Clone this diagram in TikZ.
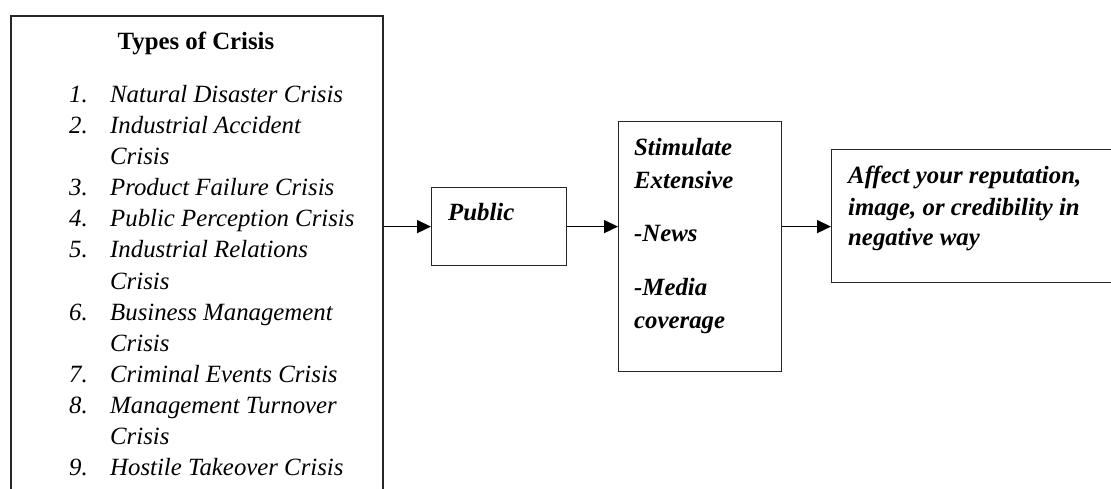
\documentclass[tikz,border=0pt]{standalone}
\usepackage{fontspec}
\setmainfont{Liberation Serif}
\usetikzlibrary{arrows.meta}
\begin{document}
\begin{tikzpicture}[x=1pt,y=-1pt,
  frame/.style={draw=black!85, line width=1.2pt, inner sep=0pt, anchor=north west},
  txt/.style={anchor=base west, inner sep=0pt, font=\fontsize{24.8}{31}\selectfont\itshape},
  btxt/.style={anchor=base west, inner sep=0pt, font=\fontsize{24.8}{31}\selectfont\bfseries\itshape},
  conn/.style={line width=1.5pt, -{Triangle[length=14pt,width=13pt]}}]
\useasboundingbox (0,0) rectangle (1111,489);
\clip (0,0) rectangle (1111,489);
% boxes
\node[frame, line width=1.8pt, minimum width=372pt, minimum height=520pt] (crisis) at (10,15) {};
\node[frame, minimum width=135pt, minimum height=78pt] (pub) at (431,187) {};
\node[frame, minimum width=163pt, minimum height=250pt] (stim) at (618,121) {};
\node[frame, minimum width=300pt, minimum height=133pt] (aff) at (831,149) {};
% left box text
\node[anchor=base, inner sep=0pt, font=\fontsize{24.8}{31}\selectfont\bfseries] (title) at (196,50) {Types of Crisis};
\foreach \n/\t [count=\k from 0] in {1./Natural Disaster Crisis, 2./Industrial Accident, /Crisis, 3./Product Failure Crisis, 4./Public Perception Crisis, 5./Industrial Relations, /Crisis, 6./Business Management, /Crisis, 7./Criminal Events Crisis, 8./Management Turnover, /Crisis, 9./Hostile Takeover Crisis}{
  \node[txt] (num\k) at (69,103+31*\k) {\n};
  \node[txt] (item\k) at (110,103+31*\k) {\t};
}
% public
\node[btxt] (pubtxt) at (448,221) {Public};
% stimulate
\node[btxt] (s1) at (634,156) {Stimulate};
\node[btxt] (s2) at (634,189) {Extensive};
\node[btxt] (s3) at (634,241) {-News};
\node[btxt] (s4) at (634,295) {-Media};
\node[btxt] (s5) at (634,328) {coverage};
% affect
\node[btxt] (a1) at (848,184) {Affect your reputation,};
\node[btxt] (a2) at (848,215) {image, or credibility in};
\node[btxt] (a3) at (848,246) {negative way};
% connectors
\draw[conn] (crisis.east |- pub.west) -- (pub.west);
\draw[conn] (pub.east) -- (pub.east -| stim.west);
\draw[conn] (stim.east |- pub.east) -- (pub.east -| aff.west);
\end{tikzpicture}
\end{document}
